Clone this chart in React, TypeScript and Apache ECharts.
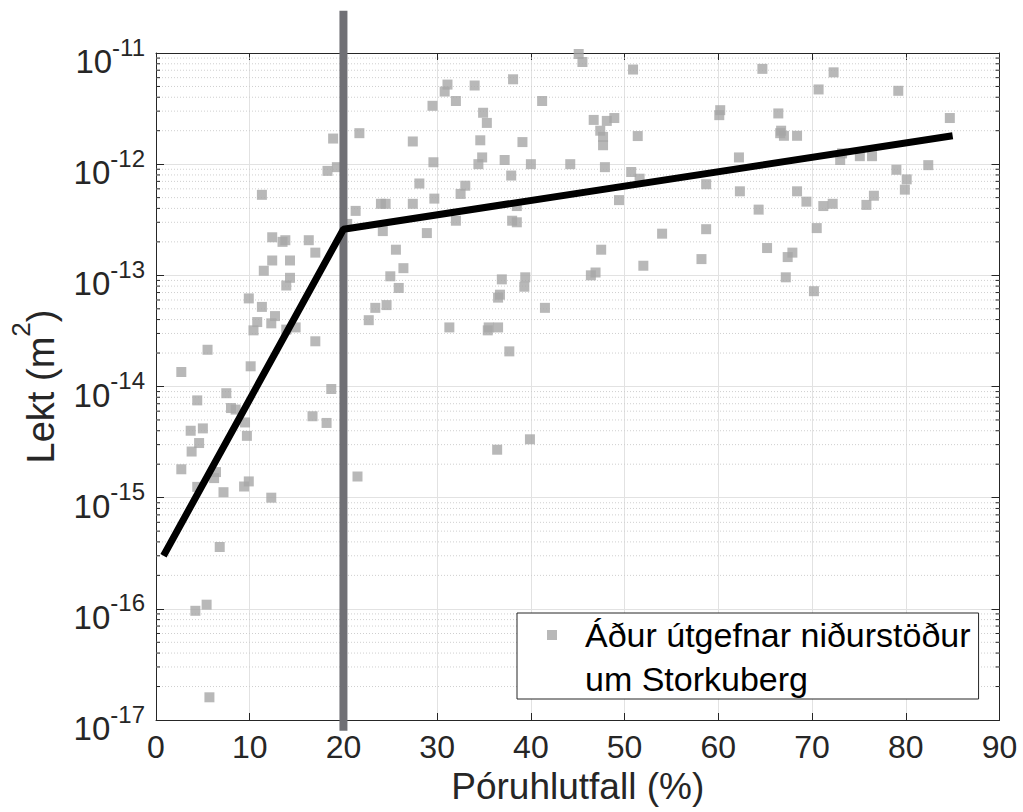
import React, { useEffect, useRef } from "react";
import * as echarts from "echarts";

// Porosity (%) and permeability (m^2), low-porosity group (< ~32 %)
const porosityLow = [
  11.3, 18.9, 21.7, 18.3, 19.3, 27.4, 29.5, 30.8, 31.1, 29.6, 28.1, 29.7, 27.4, 24.0, 24.5,
  21.3, 20.4, 24.2, 28.9, 25.6, 26.4, 25.0, 25.9, 12.4, 13.5, 13.8, 16.3, 17.0, 12.4, 14.3,
  11.5, 14.3, 13.9, 9.9, 11.3, 12.7, 10.8, 12.3, 10.4, 13.9, 14.9, 17.0, 5.5, 10.1, 2.7,
  18.7, 7.5, 4.4, 8.0, 8.5, 16.7, 18.2, 9.5, 3.7, 5.0, 9.7, 4.6, 3.8, 2.7, 6.4,
  6.2, 4.4, 7.2, 9.4, 9.9, 12.3, 21.5, 23.4, 24.6, 22.7, 31.3, 6.8, 4.2, 5.4, 5.7,
];
const permLow = [
  5.3e-13, 1.7e-12, 1.9e-12, 8.7e-13, 9.4e-13, 1.6e-12, 3.35e-12, 4.5e-12, 5.2e-12, 1.04e-12, 6.7e-13, 4.9e-13, 4.4e-13, 4.4e-13, 4.4e-13,
  3.8e-13, 2.9e-13, 2.5e-13, 2.4e-13, 1.7e-13, 1.16e-13, 9.8e-14, 7.7e-14, 2.2e-13, 2.0e-13, 2.07e-13, 2.07e-13, 1.6e-13, 1.36e-13, 1.36e-13,
  1.1e-13, 9.5e-14, 8.1e-14, 6.2e-14, 5.2e-14, 4.3e-14, 3.8e-14, 3.7e-14, 3.2e-14, 3.25e-14, 3.4e-14, 2.55e-14, 2.14e-14, 1.52e-14, 1.35e-14,
  9.5e-15, 8.7e-15, 7.5e-15, 6.4e-15, 6.2e-15, 5.4e-15, 4.7e-15, 4.75e-15, 4.0e-15, 4.2e-15, 3.6e-15, 3.1e-15, 2.6e-15, 1.8e-15, 1.7e-15,
  1.5e-15, 1.25e-15, 1.12e-15, 1.26e-15, 1.4e-15, 1.0e-15, 1.55e-15, 5.1e-14, 5.4e-14, 3.95e-14, 3.4e-14, 3.6e-16, 9.6e-17, 1.09e-16, 1.6e-17,
];

// mid-porosity group (~32-60 %)
const porosityMid = [
  45.1, 45.5, 50.9, 38.1, 34.0, 32.0, 41.2, 34.9, 35.3, 46.7, 48.1, 48.9, 47.4, 47.7, 47.7,
  60.2, 60.1, 51.4, 34.6, 39.1, 34.8, 34.4, 37.2, 40.0, 44.2, 47.9, 50.7, 51.6, 37.9, 58.7,
  33.0, 32.5, 49.4, 38.5, 32.0, 38.0, 38.5, 54.0, 58.7, 47.5, 58.2, 52.0, 46.4, 46.9, 36.9,
  39.4, 39.3, 36.7, 36.5, 41.5, 35.5, 36.5, 35.4, 37.7, 39.9, 36.4,
];
const permMid = [
  9.8e-12, 8.3e-12, 7.1e-12, 5.8e-12, 5.1e-12, 3.7e-12, 3.7e-12, 2.9e-12, 2.35e-12, 2.5e-12, 2.45e-12, 2.6e-12, 2.0e-12, 1.76e-12, 1.48e-12,
  3.06e-12, 2.76e-12, 1.79e-12, 1.64e-12, 1.58e-12, 1.15e-12, 1.0e-12, 1.09e-12, 1.0e-12, 1.0e-12, 9.4e-13, 8.5e-13, 7.4e-13, 7.9e-13, 6.6e-13,
  6.4e-13, 5.4e-13, 4.75e-13, 4.2e-13, 3.1e-13, 3.1e-13, 3.0e-13, 2.37e-13, 2.6e-13, 1.7e-13, 1.4e-13, 1.22e-13, 1.0e-13, 1.06e-13, 9.2e-14,
  9.6e-14, 7.9e-14, 6.7e-14, 6.3e-14, 5.1e-14, 3.4e-14, 3.4e-14, 3.2e-14, 2.07e-14, 3.35e-15, 2.7e-15,
];

// high-porosity group (> ~60 %)
const porosityHigh = [
  64.7, 72.3, 70.7, 79.2, 66.4, 84.7, 66.7, 67.0, 66.6, 68.4, 62.2, 73.2, 73.0, 75.1, 76.4,
  79.0, 82.4, 80.1, 79.9, 62.3, 68.4, 69.4, 71.2, 72.2, 75.8, 76.6, 64.3, 70.5, 65.2, 67.9,
  67.4, 67.2, 70.2,
];
const permHigh = [
  7.2e-12, 6.7e-12, 4.7e-12, 4.57e-12, 2.86e-12, 2.6e-12, 2.0e-12, 1.8e-12, 1.9e-12, 1.8e-12, 1.15e-12, 1.25e-12, 1.09e-12, 1.18e-12, 1.18e-12,
  8.9e-13, 9.8e-13, 7.3e-13, 5.9e-13, 5.7e-13, 5.7e-13, 4.6e-13, 4.2e-13, 4.4e-13, 4.3e-13, 5.2e-13, 3.9e-13, 2.66e-13, 1.76e-13, 1.6e-13,
  1.46e-13, 9.6e-14, 7.2e-14,
];

// piecewise fit (black line)
const fitPorosity = [0.8, 20, 85];
const fitPerm = [3.0e-16, 2.6e-13, 1.8e-12];

// threshold marker (vertical grey bar at 20 %)
const thresholdPorosity = 20;
const thresholdPermSpan = [2.4e-11, 8.0e-18];

// axis ranges
const xRange = [0, 90];
const xStep = 10;
const yRange = [1e-17, 1e-11];

const seriesName = "Áður útgefnar niðurstöður";
const seriesName2 = "um Storkuberg";
const xTitle = "Póruhlutfall (%)";

const FONT = "'Liberation Sans', Arial, Helvetica, sans-serif";
const AX = "#262626";

export default function App() {
  const ref = useRef<HTMLDivElement>(null);

  useEffect(() => {
    const el = ref.current;
    if (!el) return;
    const chart = echarts.init(el, null, { renderer: "svg" });

    const points: number[][] = [];
    porosityLow.forEach((x, i) => points.push([x, permLow[i]]));
    porosityMid.forEach((x, i) => points.push([x, permMid[i]]));
    porosityHigh.forEach((x, i) => points.push([x, permHigh[i]]));

    const minorVals: number[][] = [];
    const eLo = Math.round(Math.log10(yRange[0]));
    const eHi = Math.round(Math.log10(yRange[1]));
    for (let e = eLo; e < eHi; e++) {
      for (let k = 2; k <= 9; k++) minorVals.push([xRange[0], k * Math.pow(10, e)]);
    }

    const yLabelFormatter = (v: number) => {
      const e = Math.round(Math.log10(v));
      return `{b|10}{s|${e}}`;
    };

    const option: any = {
      animation: false,
      backgroundColor: "#ffffff",
      textStyle: { fontFamily: FONT },
      grid: { left: 155, right: 23.5, top: 53, bottom: 92 },
      legend: {
        show: true,
        data: [{ name: seriesName, icon: "rect" }],
        left: 517,
        top: 613,
        orient: "vertical",
        itemWidth: 10,
        itemHeight: 10,
        padding: [5, 8, 47, 30],
        borderColor: AX,
        borderWidth: 1,
        backgroundColor: "#ffffff",
        selectedMode: false,
        textStyle: { fontSize: 34, color: "#000", fontFamily: FONT, padding: [0, 0, 0, 23] },
        z: 20,
      },
      graphic: [
        {
          type: "text",
          left: 585,
          top: 662,
          z: 100,
          style: { text: seriesName2, fontSize: 34, fill: "#000", fontFamily: FONT },
        },
      ],
      xAxis: [
        {
          type: "value",
          min: xRange[0],
          max: xRange[1],
          interval: xStep,
          position: "bottom",
          name: xTitle,
          nameLocation: "middle",
          nameGap: 43,
          nameTextStyle: { fontSize: 37, color: AX, fontFamily: FONT },
          axisLine: { show: true, onZero: false, lineStyle: { color: AX, width: 1 } },
          axisTick: { show: true, inside: true, length: 7, lineStyle: { color: AX } },
          axisLabel: { fontSize: 32, color: AX, margin: 11, fontFamily: FONT },
          splitLine: { show: true, lineStyle: { color: "#e2e2e2", width: 1 } },
        },
        {
          type: "value",
          min: xRange[0],
          max: xRange[1],
          interval: xStep,
          position: "top",
          axisLine: { show: true, onZero: false, lineStyle: { color: AX, width: 1 } },
          axisTick: { show: true, inside: true, length: 7, lineStyle: { color: AX } },
          axisLabel: { show: false },
          splitLine: { show: false },
        },
      ],
      yAxis: [
        {
          type: "log",
          logBase: 10,
          min: yRange[0],
          max: yRange[1],
          splitNumber: 6,
          name: "{a|Lekt (m}{s|2}{a|)}",
          nameLocation: "middle",
          nameGap: 96,
          nameRotate: 90,
          nameTextStyle: {
            color: AX,
            fontFamily: FONT,
            rich: {
              a: { fontSize: 38, color: AX, fontFamily: FONT, padding: [14, 0, 0, 0] },
              s: { fontSize: 26, color: AX, fontFamily: FONT, verticalAlign: "top", padding: [0, 0, 0, 0] },
            },
          },
          axisLine: { show: true, onZero: false, lineStyle: { color: AX, width: 1 } },
          axisTick: { show: true, inside: true, length: 8, lineStyle: { color: AX } },
          axisLabel: {
            formatter: yLabelFormatter,
            margin: 11,
            color: AX,
            rich: {
              b: { fontSize: 33, color: AX, fontFamily: FONT, padding: [17, 0, 0, 0], verticalAlign: "top" },
              s: { fontSize: 24, color: AX, fontFamily: FONT, padding: [7, 0, 0, 0], verticalAlign: "top" },
            },
          },
          splitLine: { show: true, lineStyle: { color: "#e2e2e2", width: 1 } },
        },
        {
          type: "log",
          logBase: 10,
          min: yRange[0],
          max: yRange[1],
          splitNumber: 6,
          position: "right",
          axisLine: { show: true, onZero: false, lineStyle: { color: AX, width: 1 } },
          axisTick: { show: true, inside: true, length: 8, lineStyle: { color: AX } },
          axisLabel: { show: false },
          splitLine: { show: false },
        },
      ],
      series: [
        {
          type: "custom",
          name: "minor",
          xAxisIndex: 0,
          yAxisIndex: 0,
          silent: true,
          z: 1,
          data: minorVals,
          renderItem: (_params: any, api: any) => {
            const v = api.value(1);
            const p0 = api.coord([xRange[0], v]);
            const p1 = api.coord([xRange[1], v]);
            return {
              type: "group",
              children: [
                {
                  type: "line",
                  shape: { x1: p0[0], y1: p0[1], x2: p1[0], y2: p1[1] },
                  style: { stroke: "#cfcfcf", lineWidth: 1, lineDash: [1, 2] },
                },
                {
                  type: "line",
                  shape: { x1: p0[0], y1: p0[1], x2: p0[0] + 4, y2: p0[1] },
                  style: { stroke: AX, lineWidth: 1 },
                },
                {
                  type: "line",
                  shape: { x1: p1[0] - 4, y1: p1[1], x2: p1[0], y2: p1[1] },
                  style: { stroke: AX, lineWidth: 1 },
                },
              ],
            };
          },
        },
        {
          type: "scatter",
          name: seriesName,
          xAxisIndex: 0,
          yAxisIndex: 0,
          symbol: "rect",
          symbolSize: 10,
          z: 3,
          itemStyle: { color: "#a6a6a6" },
          data: points,
        },
        {
          type: "line",
          name: "threshold",
          xAxisIndex: 0,
          yAxisIndex: 0,
          clip: false,
          symbol: "none",
          z: 4,
          lineStyle: { color: "#707075", width: 8 },
          data: thresholdPermSpan.map((y) => [thresholdPorosity, y]),
        },
        {
          type: "line",
          name: "fit",
          xAxisIndex: 0,
          yAxisIndex: 0,
          symbol: "none",
          z: 5,
          lineStyle: { color: "#000000", width: 7 },
          data: fitPorosity.map((x, i) => [x, fitPerm[i]]),
        },
      ],
    };

    chart.setOption(option);
    return () => chart.dispose();
  }, []);

  return (
    <div
      ref={ref}
      style={{ position: "fixed", left: 0, top: 0, width: 1023, height: 812, background: "#fff" }}
    />
  );
}
